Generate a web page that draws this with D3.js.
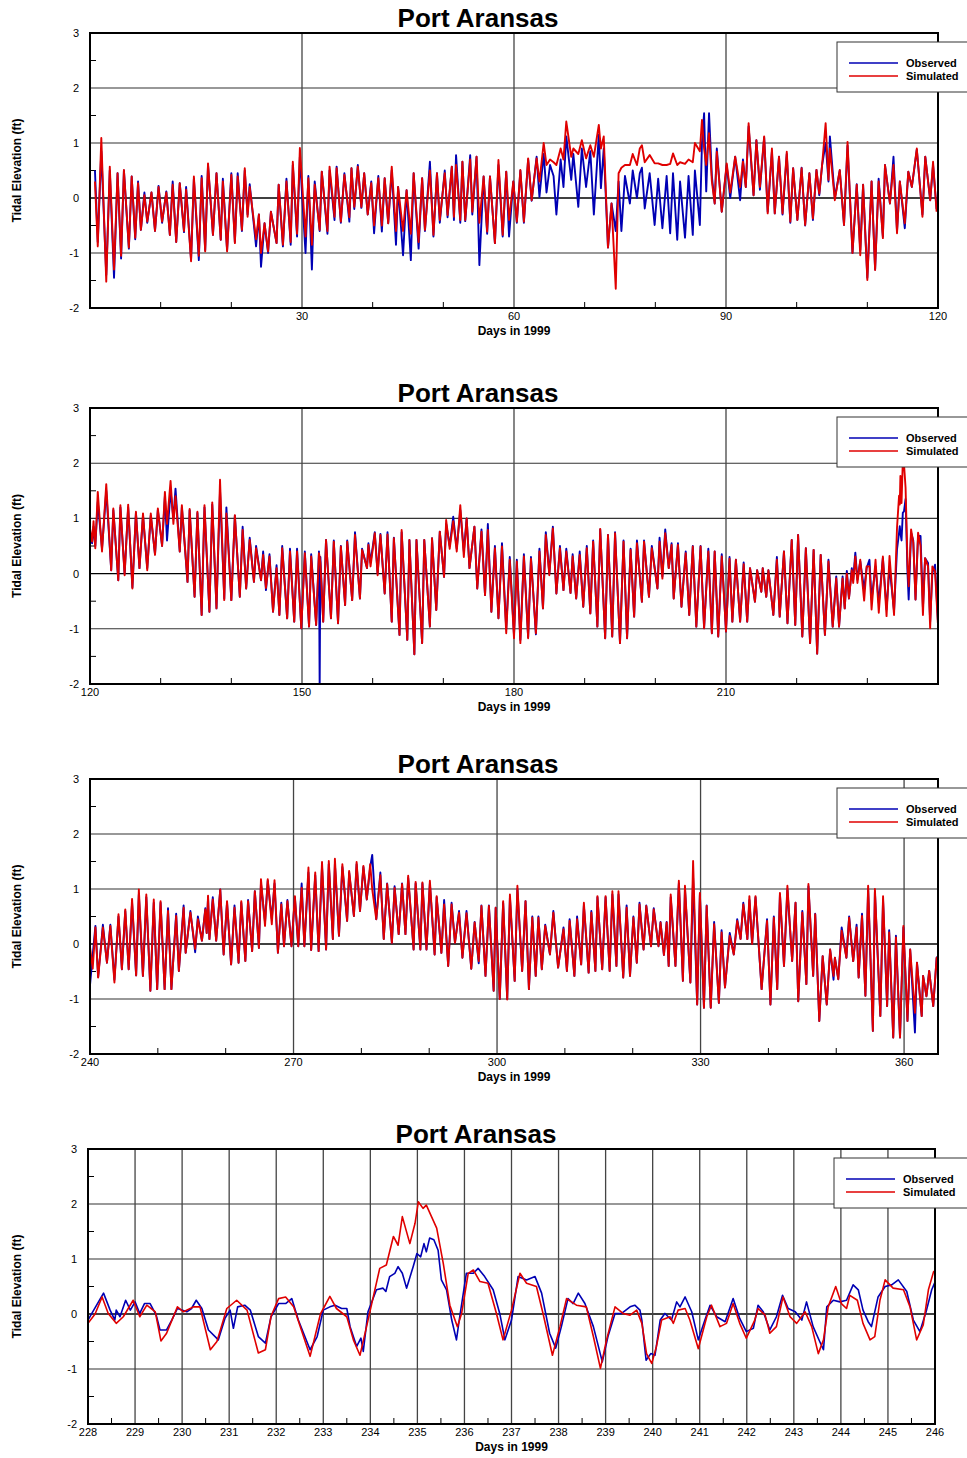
<!DOCTYPE html>
<html>
<head>
<meta charset="utf-8">
<script src="https://cdn.jsdelivr.net/npm/d3@7"></script>
<style>
  body { margin: 0; background: #fff; }
  svg { display: block; font-family: 'Liberation Sans', Arial, sans-serif; }
</style>
</head>
<body>
<script>
/* eslint-disable no-undef */
// Port Aransas tidal elevation (ft), observed vs simulated, 1999
const seriesNames = ['Observed', 'Simulated']
const yTicks = [3, 2, 1, 0, -1, -2]

// panel 1: days 0-120 (times of highs/lows)
const p1Days = [
  0.7, 1.1, 1.6, 2.3, 2.8, 3.4, 3.9, 4.4, 4.8, 5.5,
  5.9, 6.4, 6.8, 7.2, 7.7, 8.1, 8.7, 9.2, 9.7, 10.2,
  10.8, 11.3, 11.7, 12.2, 12.7, 13.3, 13.6, 14.3, 14.7, 15.4,
  15.8, 16.3, 16.7, 17.4, 17.9, 18.5, 18.8, 19.4, 20.0, 20.5,
  20.9, 21.5, 21.9, 22.3, 22.6, 23.5, 23.9, 24.2, 24.7, 25.2,
  25.6, 26.4, 26.7, 27.3, 27.8, 28.4, 28.7, 29.3, 29.7, 30.5,
  30.9, 31.4, 31.8, 32.5, 32.8, 33.6, 33.9, 34.6, 34.9, 35.5,
  36.0, 36.7, 37.0, 37.4, 37.9, 38.4, 38.8, 39.3, 39.8, 40.2,
  40.8, 41.3, 41.7, 42.2, 42.7, 43.3, 43.6, 44.3, 44.8, 45.4,
  45.8, 46.5, 47.0, 47.4, 48.1, 48.6, 49.1, 49.5, 50.2, 50.6,
  51.2, 51.5, 51.8, 52.4, 52.7, 53.1, 53.8, 54.1, 54.7, 55.1,
  55.7, 56.2, 56.6, 57.3, 57.8, 58.4, 58.9, 59.3, 59.9, 60.4,
  60.9, 61.4, 62.0, 62.5, 63.2, 63.6, 64.2, 64.6, 65.1, 65.6,
  66.0, 66.6, 67.0, 67.4, 68.1, 68.4, 69.1, 69.6, 70.2, 70.8,
  71.3, 72.0, 72.3, 72.7, 73.3, 73.8, 74.4, 74.8, 75.2, 75.7,
  76.4, 76.8, 77.4, 77.8, 78.1, 78.5, 79.2, 79.9, 80.4, 81.0,
  81.6, 82.1, 82.5, 83.1, 83.5, 84.2, 84.7, 85.3, 85.6, 86.3,
  86.6, 86.9, 87.2, 87.6, 88.0, 88.4, 88.7, 89.4, 90.1, 90.6,
  91.3, 92.0, 92.4, 92.8, 93.2, 93.9, 94.3, 94.8, 95.4, 95.9,
  96.5, 96.9, 97.5, 98.0, 98.6, 99.1, 99.5, 100.1, 100.7, 101.2,
  101.8, 102.3, 102.8, 103.2, 103.6, 104.1, 104.5, 104.7, 105.4, 106.1,
  106.7, 107.2, 107.9, 108.5, 109.0, 109.4, 110.0, 110.6, 111.1, 111.6,
  112.2, 112.5, 113.2, 113.7, 114.2, 114.6, 115.3, 115.8, 116.3, 117.0,
  117.8, 118.2, 118.9, 119.3, 119.8
]
const p1Sim = [
  0.3, -0.88, 1.09, -1.52, 0.57, -1.3, 0.45, -1.05, 0.51, -0.9,
  0.39, -0.72, 0.27, -0.58, 0.05, -0.43, 0.1, -0.6, 0.2, -0.43,
  0.1, -0.67, 0.24, -0.8, 0.27, -0.6, 0.15, -1.15, 0.39, -1.05,
  0.36, -0.97, 0.63, -0.67, 0.45, -0.76, 0.3, -0.97, 0.42, -0.82,
  0.39, -0.58, 0.54, -0.34, 0.2, -0.75, -0.3, -1.0, -0.46, -0.97,
  -0.25, -0.82, 0.24, -0.85, 0.3, -0.8, 0.66, -0.65, 0.91, -0.7,
  0.36, -0.85, 0.24, -0.58, 0.48, -0.6, 0.57, -0.34, 0.54, -0.43,
  0.42, -0.35, 0.54, -0.16, 0.57, -0.16, 0.45, -0.3, 0.27, -0.5,
  0.36, -0.5, 0.36, -0.46, 0.57, -0.6, 0.2, -0.6, 0.14, -0.65,
  0.45, -0.8, 0.36, -0.58, 0.5, -0.67, 0.45, -0.4, 0.45, -0.31,
  0.57, -0.34, 0.6, -0.4, 0.66, -0.4, 0.7, -0.25, 0.75, -0.45,
  0.39, -0.61, 0.39, -0.82, 0.69, -0.67, 0.48, -0.4, 0.3, -0.43,
  0.51, -0.43, 0.72, -0.04, 0.72, 0.3, 1.0, 0.6, 0.7, 0.65,
  0.6, 0.9, 0.7, 1.39, 0.75, 0.9, 0.8, 1.05, 0.72, 0.96,
  0.75, 1.33, 0.9, 1.12, -0.9, -0.1, -1.65, 0.45, 0.55, 0.6,
  0.6, 0.8, 0.6, 0.9, 0.96, 0.65, 0.78, 0.63, 0.63, 0.6,
  0.6, 0.62, 0.81, 0.6, 0.65, 0.62, 0.7, 0.65, 1.0, 0.85,
  1.42, 0.9, 0.6, 1.18, 0.3, -0.1, 0.84, -0.25, 0.63, 0.1,
  0.75, 0.2, 0.66, 0.2, 1.36, 0.05, 1.05, 0.2, 1.12, -0.28,
  0.9, -0.28, 0.75, -0.28, 0.84, -0.43, 0.54, -0.4, 0.54, -0.49,
  0.45, -0.37, 0.51, 0.08, 0.6, 1.36, 0.33, 0.9, -0.04, 0.51,
  -0.49, 1.02, -1.0, 0.24, -1.04, 0.24, -1.49, 0.3, -1.31, 0.3,
  -0.73, 0.6, -0.1, 0.6, -0.64, 0.3, -0.46, 0.48, 0.2, 0.9,
  -0.34, 0.75, -0.04, 0.66, -0.25
]
const p1Obs = [
  0.5, -0.8, 0.85, -1.4, 0.5, -1.45, 0.45, -1.1, 0.5, -0.92,
  0.39, -0.75, 0.3, -0.58, 0.1, -0.45, 0.1, -0.6, 0.22, -0.45,
  0.12, -0.67, 0.3, -0.8, 0.27, -0.62, 0.2, -1.12, 0.35, -1.13,
  0.4, -0.95, 0.6, -0.67, 0.45, -0.76, 0.35, -0.95, 0.45, -0.8,
  0.45, -0.6, 0.5, -0.3, 0.25, -0.88, -0.3, -1.25, -0.46, -1.0,
  -0.25, -0.82, 0.24, -0.88, 0.35, -0.85, 0.6, -0.7, 0.75, -1.0,
  0.4, -1.3, 0.3, -0.6, 0.48, -0.65, 0.5, -0.4, 0.57, -0.45,
  0.45, -0.43, 0.54, -0.2, 0.6, -0.18, 0.45, -0.3, 0.3, -0.64,
  0.4, -0.61, 0.36, -0.46, 0.5, -0.85, 0.2, -1.04, 0.14, -1.13,
  0.45, -0.92, 0.36, -0.6, 0.66, -0.7, 0.45, -0.45, 0.5, -0.35,
  0.57, -0.4, 0.78, -0.45, 0.66, -0.42, 0.78, -0.3, 0.75, -1.22,
  0.39, -0.65, 0.39, -0.82, 0.6, -0.7, 0.48, -0.7, 0.3, -0.45,
  0.5, -0.45, 0.7, -0.05, 0.75, 0.02, 0.8, 0.1, 0.6, 0.4,
  -0.3, 0.7, 0.2, 1.12, 0.33, 0.8, -0.16, 0.9, 0.2, 0.85,
  -0.3, 1.15, 0.18, 0.9, -0.9, -0.1, -0.6, 0.3, -0.6, 0.4,
  -0.1, 0.5, 0.0, 0.45, 0.55, -0.19, 0.45, -0.49, 0.35, -0.55,
  0.4, -0.64, 0.45, -0.76, 0.3, -0.72, 0.4, -0.67, 0.5, -0.49,
  1.0, 1.54, 0.12, 1.54, 0.4, -0.1, 0.9, -0.25, 0.6, 0.0,
  0.75, -0.04, 0.7, 0.2, 1.3, 0.05, 1.05, 0.15, 1.1, -0.25,
  0.85, -0.28, 0.75, -0.3, 0.8, -0.45, 0.54, -0.4, 0.55, -0.5,
  0.45, -0.4, 0.51, 0.05, 0.6, 1.0, 0.3, 1.12, 0.0, 0.5,
  -0.49, 0.95, -1.0, 0.25, -0.95, 0.24, -1.45, 0.3, -1.3, 0.35,
  -0.7, 0.6, -0.1, 0.75, -0.6, 0.3, -0.55, 0.48, 0.2, 0.88,
  -0.3, 0.75, -0.04, 0.6, -0.2
]

// panel 2: days 120-240
const p2Days = [
  120.0, 120.3, 120.5, 120.75, 121.1, 121.7, 122.3, 123.0, 123.3, 124.0,
  124.3, 124.9, 125.4, 126.0, 126.5, 127.0, 127.5, 128.1, 128.6, 129.2,
  129.6, 130.2, 130.6, 130.9, 131.4, 131.8, 132.1, 132.7, 133.0, 133.8,
  134.1, 134.8, 135.2, 135.8, 136.2, 136.9, 137.3, 137.9, 138.4, 139.0,
  139.3, 140.0, 140.5, 141.2, 141.6, 142.1, 142.6, 143.2, 143.5, 144.2,
  144.5, 144.9, 145.4, 145.9, 146.4, 146.8, 147.2, 147.9, 148.3, 148.9,
  149.3, 149.9, 150.4, 151.0, 151.3, 152.0, 152.4, 152.5, 152.6, 153.0,
  153.4, 154.1, 154.5, 155.1, 155.5, 156.1, 156.4, 157.1, 157.5, 158.2,
  158.5, 159.2, 159.4, 159.7, 160.3, 160.7, 161.1, 161.7, 162.1, 162.7,
  163.0, 163.8, 164.1, 164.9, 165.2, 165.9, 166.2, 167.0, 167.3, 168.1,
  168.4, 169.0, 169.5, 170.1, 170.4, 170.9, 171.4, 171.9, 172.4, 172.9,
  173.3, 173.7, 174.4, 174.8, 175.4, 175.9, 176.3, 176.8, 177.3, 177.8,
  178.3, 178.9, 179.4, 180.0, 180.4, 180.9, 181.4, 182.0, 182.4, 183.1,
  183.6, 184.1, 184.5, 185.0, 185.5, 186.0, 186.5, 187.0, 187.4, 188.0,
  188.3, 188.8, 189.3, 189.8, 190.3, 190.8, 191.2, 191.8, 192.2, 192.9,
  193.3, 193.9, 194.3, 195.0, 195.5, 196.0, 196.5, 197.0, 197.4, 198.1,
  198.4, 199.1, 199.5, 200.3, 200.6, 201.0, 201.4, 201.9, 202.3, 202.6,
  203.2, 203.7, 204.3, 204.8, 205.3, 205.8, 206.4, 206.9, 207.5, 208.0,
  208.4, 208.9, 209.4, 210.0, 210.5, 210.9, 211.4, 212.0, 212.5, 213.0,
  213.4, 214.1, 214.4, 215.0, 215.2, 215.7, 216.0, 216.7, 217.2, 217.6,
  218.2, 218.7, 219.3, 219.8, 220.2, 220.8, 221.3, 221.9, 222.4, 222.9,
  223.4, 224.0, 224.5, 225.1, 225.6, 226.0, 226.5, 226.8, 227.1, 227.4,
  227.8, 228.0, 228.3, 228.6, 229.0, 229.55, 229.9, 230.3, 230.6, 231.16,
  231.62, 232.2, 232.72, 233.14, 233.78, 234.2, 234.49, 234.59, 234.68, 234.84,
  235.02, 235.19, 235.41, 235.69, 235.85, 236.19, 236.5, 236.82, 237.18, 237.53,
  237.87, 238.17, 238.59, 238.89, 239.2, 239.58, 239.98
]
const p2Sim = [
  0.82, 0.58, 0.95, 0.46, 1.48, 0.4, 1.62, 0.06, 1.18, -0.12,
  1.24, -0.03, 1.25, -0.27, 1.12, 0.1, 1.09, 0.06, 1.09, 0.34,
  1.18, 0.5, 1.48, 0.9, 1.68, 0.9, 1.4, 0.4, 1.24, -0.15,
  1.17, -0.42, 1.12, -0.75, 1.24, -0.69, 1.29, -0.63, 1.7, -0.48,
  1.09, -0.48, 1.06, -0.42, 0.79, -0.27, 0.61, -0.15, 0.46, -0.12,
  0.34, -0.26, 0.31, -0.69, 0.1, -0.75, 0.46, -0.81, 0.4, -0.87,
  0.4, -0.99, 0.37, -0.96, 0.31, -0.93, 0.37, 0.3, 0.2, -0.87,
  0.61, -0.81, 0.58, -0.9, 0.49, -0.57, 0.58, -0.48, 0.7, -0.45,
  0.43, 0.1, 0.52, 0.13, 0.73, -0.03, 0.7, -0.36, 0.71, -0.87,
  0.64, -1.11, 0.79, -1.2, 0.61, -1.46, 0.61, -1.26, 0.61, -0.96,
  0.64, -0.66, 0.76, -0.06, 0.97, 0.45, 0.95, 0.4, 1.24, 0.3,
  1.0, 0.1, 0.85, -0.27, 0.76, -0.39, 0.79, -0.69, 0.46, -0.81,
  0.49, -1.08, 0.25, -1.17, 0.22, -1.26, 0.31, -1.17, 0.27, -1.08,
  0.4, -0.63, 0.7, -0.03, 0.82, -0.36, 0.46, -0.3, 0.4, -0.35,
  0.31, -0.45, 0.34, -0.6, 0.46, -0.72, 0.58, -0.96, 0.81, -1.17,
  0.7, -1.14, 0.73, -1.26, 0.58, -1.17, 0.43, -0.78, 0.55, -0.51,
  0.58, -0.42, 0.46, -0.27, 0.58, -0.09, 0.73, 0.1, 0.52, -0.45,
  0.52, -0.6, 0.37, -0.75, 0.49, -0.96, 0.49, -0.99, 0.4, -1.08,
  0.4, -1.14, 0.31, -1.05, 0.27, -0.87, 0.25, -0.87, 0.17, -0.87,
  0.1, -0.51, 0.06, -0.33, 0.1, -0.42, 0.06, -0.75, 0.25, -0.78,
  0.4, -0.9, 0.61, -0.93, 0.7, -1.14, 0.46, -1.26, 0.43, -1.45,
  0.34, -1.11, 0.22, -0.96, -0.09, -0.96, -0.09, -0.63, 0.0, -0.45,
  0.06, -0.17, 0.31, -0.17, 0.25, -0.49, 0.13, 0.13, -0.65, 0.25,
  -0.71, 0.31, -0.77, 0.32, -0.75, 0.83, 1.41, 1.25, 1.77, 1.28,
  2.04, 1.98, 1.56, 0.16, -0.23, 0.8, 0.56, -0.47, 0.74, 0.5,
  -0.75, 0.28, 0.13, -0.99, 0.13, 0.04, -0.9
]
const p2Obs = [
  0.6, 0.55, 0.85, 0.5, 1.3, 0.45, 1.5, 0.06, 1.15, -0.12,
  1.2, 0.0, 1.2, -0.25, 1.1, 0.1, 1.05, 0.1, 1.05, 0.35,
  1.15, 0.5, 1.4, 0.6, 1.5, 1.0, 1.54, 0.4, 1.2, -0.15,
  1.15, -0.42, 1.1, -0.75, 1.2, -0.69, 1.25, -0.63, 1.5, -0.45,
  1.2, -0.48, 1.05, -0.42, 0.85, -0.27, 0.65, -0.15, 0.5, -0.12,
  0.4, -0.3, 0.35, -0.69, 0.15, -0.75, 0.5, -0.81, 0.45, -0.87,
  0.45, -0.99, 0.4, -0.96, 0.35, -0.93, 0.4, -2.1, 0.3, -0.87,
  0.61, -0.81, 0.6, -0.9, 0.5, -0.57, 0.6, -0.48, 0.75, -0.45,
  0.45, 0.1, 0.55, 0.2, 0.75, 0.0, 0.72, -0.36, 0.75, -0.87,
  0.65, -1.11, 0.75, -1.2, 0.61, -1.46, 0.61, -1.26, 0.61, -0.96,
  0.64, -0.66, 0.76, -0.06, 0.9, 0.5, 1.03, 0.45, 1.15, 0.4,
  1.0, 0.1, 0.85, -0.27, 0.8, -0.39, 0.9, -0.69, 0.5, -0.81,
  0.55, -1.0, 0.3, -1.11, 0.25, -1.2, 0.35, -1.15, 0.3, -1.1,
  0.45, -0.63, 0.75, 0.0, 0.85, -0.36, 0.5, -0.3, 0.45, -0.35,
  0.35, -0.45, 0.4, -0.6, 0.5, -0.72, 0.6, -0.96, 0.8, -1.17,
  0.7, -1.14, 0.75, -1.26, 0.6, -1.17, 0.45, -0.78, 0.6, -0.51,
  0.6, -0.42, 0.5, -0.27, 0.65, -0.05, 0.8, 0.1, 0.55, -0.45,
  0.55, -0.6, 0.4, -0.75, 0.5, -0.96, 0.5, -0.99, 0.45, -1.08,
  0.4, -1.14, 0.35, -1.05, 0.3, -0.87, 0.25, -0.87, 0.2, -0.87,
  0.1, -0.51, 0.06, -0.33, 0.1, -0.42, 0.06, -0.75, 0.3, -0.78,
  0.4, -0.9, 0.61, -0.93, 0.7, -1.14, 0.46, -1.26, 0.43, -1.45,
  0.34, -1.11, 0.25, -0.96, -0.05, -0.96, -0.05, -0.63, 0.05, -0.45,
  0.1, -0.11, 0.38, -0.11, 0.22, -0.29, 0.1, 0.25, -0.47, 0.13,
  -0.53, 0.28, -0.65, 0.13, -0.68, 0.44, 0.74, 0.86, 0.74, 0.6,
  1.1, 1.13, 1.35, 0.0, -0.47, 0.74, 0.6, -0.47, 0.68, 0.68,
  -0.62, 0.28, 0.19, -0.87, 0.01, 0.16, -0.84
]

// panel 3: days 240-365
const p3Days = [
  240.0, 240.4, 240.8, 241.2, 241.9, 242.5, 243.0, 243.6, 244.2, 244.7,
  245.2, 245.7, 246.2, 246.8, 247.2, 247.8, 248.3, 248.9, 249.4, 249.9,
  250.4, 251.0, 251.5, 252.0, 252.7, 253.1, 253.8, 254.1, 254.8, 255.5,
  255.9, 256.5, 257.0, 257.2, 257.4, 257.6, 258.1, 258.6, 259.2, 259.7,
  260.2, 260.8, 261.3, 261.9, 262.3, 262.9, 263.3, 263.9, 264.3, 264.9,
  265.2, 265.8, 266.2, 266.8, 267.2, 267.7, 268.2, 268.6, 269.1, 269.7,
  270.2, 270.7, 271.2, 271.6, 272.2, 272.6, 273.2, 273.7, 274.2, 274.8,
  275.2, 275.8, 276.1, 276.7, 277.2, 277.9, 278.2, 278.9, 279.3, 279.8,
  280.3, 280.8, 281.3, 281.6, 282.2, 282.8, 283.3, 283.8, 284.5, 284.9,
  285.5, 286.0, 286.5, 286.9, 287.7, 288.0, 288.7, 289.0, 289.6, 290.1,
  290.8, 291.1, 291.8, 292.2, 292.8, 293.3, 293.8, 294.4, 294.9, 295.5,
  296.2, 296.7, 297.3, 297.7, 298.3, 298.8, 299.5, 299.8, 300.4, 300.9,
  301.5, 301.9, 302.6, 303.0, 303.7, 304.2, 304.7, 305.2, 305.7, 306.1,
  306.6, 307.1, 307.8, 308.3, 309.0, 309.8, 310.3, 310.7, 311.4, 311.8,
  312.4, 312.8, 313.5, 313.9, 314.5, 314.8, 315.5, 316.0, 316.6, 317.0,
  317.6, 317.9, 318.6, 319.1, 319.6, 320.1, 320.6, 321.0, 321.6, 322.0,
  322.7, 323.1, 323.8, 324.1, 324.6, 325.0, 325.3, 325.6, 326.3, 326.8,
  327.4, 327.7, 328.5, 328.9, 329.5, 329.9, 330.5, 330.9, 331.5, 332.0,
  332.7, 333.1, 333.6, 334.3, 334.9, 335.4, 335.9, 336.3, 336.9, 337.2,
  337.6, 338.1, 339.0, 339.8, 340.3, 340.8, 341.3, 341.7, 342.3, 342.8,
  343.5, 344.0, 344.4, 345.0, 345.6, 345.9, 346.6, 346.9, 347.5, 348.0,
  348.6, 349.1, 349.6, 349.8, 350.3, 350.8, 351.5, 351.9, 352.5, 353.0,
  353.3, 353.8, 354.3, 354.7, 355.4, 355.7, 356.5, 356.9, 357.5, 357.8,
  358.4, 358.8, 359.4, 359.9, 360.5, 360.9, 361.6, 361.9, 362.6, 362.8,
  363.3, 363.7, 364.3, 364.8, 365.0
]
const p3Sim = [
  -0.05, -0.45, 0.3, -0.61, 0.3, -0.34, 0.33, -0.7, 0.54, -0.46,
  0.63, -0.46, 0.82, -0.57, 0.99, -0.58, 0.9, -0.85, 0.81, -0.82,
  0.78, -0.82, 0.6, -0.82, 0.51, -0.49, 0.66, -0.16, 0.57, -0.09,
  0.45, 0.06, 0.63, 0.2, 0.88, 0.09, 0.81, 0.06, 0.99, -0.19,
  0.78, -0.37, 0.66, -0.34, 0.78, -0.31, 0.78, -0.13, 0.96, -0.07,
  1.18, 0.33, 1.18, 0.36, 1.16, -0.16, 0.72, -0.04, 0.78, -0.04,
  0.87, -0.04, 1.02, -0.04, 1.39, -0.11, 1.3, -0.13, 1.49, -0.1,
  1.51, 0.09, 1.55, 0.15, 1.45, 0.42, 1.33, 0.51, 1.49, 0.6,
  1.42, 0.81, 1.45, 1.0, 0.45, 1.25, 0.09, 1.09, 0.02, 1.02,
  0.18, 1.09, 0.18, 1.24, -0.1, 1.13, -0.1, 1.12, -0.1, 1.15,
  -0.19, 0.87, -0.16, 0.72, -0.4, 0.72, 0.02, 0.57, -0.25, 0.56,
  -0.45, 0.39, -0.31, 0.69, -0.58, 0.69, -0.85, 0.66, -1.0, 0.78,
  -1.01, 0.9, -0.67, 1.06, -0.49, 0.78, -0.82, 0.48, -0.58, 0.48,
  -0.46, 0.33, -0.19, 0.57, -0.43, 0.27, -0.49, 0.42, -0.58, 0.45,
  -0.37, 0.75, -0.52, 0.57, -0.49, 0.87, -0.46, 0.87, -0.49, 0.96,
  -0.4, 0.96, -0.61, 0.66, -0.58, 0.48, -0.34, 0.72, -0.1, 0.69,
  -0.04, 0.63, -0.04, 0.39, -0.2, 0.39, -0.4, 0.9, -0.4, 1.15,
  -0.67, 1.06, -0.7, 1.51, -1.1, 0.93, -1.16, 0.69, -1.16, 0.36,
  -1.07, 0.21, -0.79, 0.15, -0.19, 0.42, 0.09, 0.72, 0.09, 0.87,
  0.0, 0.87, -0.82, 0.42, -1.1, 0.48, -0.82, 0.93, -0.4, 1.06,
  -0.31, 0.75, -1.04, 0.57, -0.73, 1.09, -0.58, 0.54, -1.4, -0.22,
  -1.1, -0.1, -0.58, -0.25, -0.64, 0.24, -0.25, 0.48, -0.31, 0.3,
  -0.61, 0.51, -0.94, 1.06, -1.58, 1.0, -1.31, 0.87, -1.13, 0.21,
  -1.7, 0.12, -1.7, 0.33, -1.4, -0.1, -1.25, -0.34, -1.31, -0.58,
  -0.95, -0.49, -1.13, -0.25, -0.5
]
const p3Obs = [
  -0.75, -0.2, 0.33, -0.6, 0.35, -0.34, 0.35, -0.65, 0.5, -0.46,
  0.6, -0.46, 0.75, -0.57, 0.9, -0.58, 0.85, -0.85, 0.75, -0.82,
  0.75, -0.82, 0.65, -0.82, 0.55, -0.49, 0.7, -0.16, 0.6, -0.15,
  0.5, 0.06, 0.65, 0.2, 0.85, 0.09, 0.85, 0.06, 0.99, -0.19,
  0.75, -0.37, 0.7, -0.34, 0.75, -0.31, 0.8, -0.13, 0.96, -0.07,
  1.1, 0.4, 1.15, 0.45, 1.1, -0.16, 0.75, -0.04, 0.8, -0.04,
  0.85, -0.04, 1.1, -0.04, 1.3, -0.11, 1.25, -0.13, 1.4, -0.1,
  1.45, 0.09, 1.45, 0.15, 1.4, 0.42, 1.3, 0.51, 1.45, 0.6,
  1.4, 0.81, 1.4, 1.62, 0.45, 1.3, 0.09, 1.1, 0.02, 1.05,
  0.18, 1.1, 0.18, 1.2, -0.1, 1.1, -0.1, 1.1, -0.1, 1.1,
  -0.19, 0.85, -0.16, 0.8, -0.4, 0.75, 0.02, 0.6, -0.25, 0.6,
  -0.45, 0.4, -0.35, 0.7, -0.58, 0.7, -0.85, 0.66, -1.0, 0.75,
  -1.0, 0.85, -0.67, 1.0, -0.49, 0.78, -0.82, 0.5, -0.58, 0.5,
  -0.46, 0.35, -0.19, 0.6, -0.43, 0.3, -0.49, 0.45, -0.58, 0.5,
  -0.37, 0.7, -0.52, 0.6, -0.49, 0.85, -0.46, 0.85, -0.49, 0.9,
  -0.4, 0.9, -0.61, 0.7, -0.58, 0.5, -0.34, 0.75, -0.1, 0.7,
  -0.04, 0.65, -0.04, 0.4, -0.2, 0.4, -0.4, 0.85, -0.4, 1.1,
  -0.67, 1.0, -0.7, 1.2, -1.1, 0.9, -1.16, 0.7, -1.16, 0.4,
  -1.07, 0.25, -0.79, 0.2, -0.19, 0.45, 0.09, 0.75, 0.09, 0.8,
  0.0, 0.85, -0.82, 0.45, -1.1, 0.5, -0.82, 0.9, -0.4, 1.0,
  -0.31, 0.75, -1.04, 0.6, -0.73, 1.05, -0.58, 0.55, -1.4, -0.22,
  -1.1, -0.1, -0.65, -0.25, -0.64, 0.3, -0.25, 0.5, -0.31, 0.35,
  -0.61, 0.55, -0.94, 1.0, -1.58, 0.95, -1.31, 0.8, -1.13, 0.25,
  -1.7, 0.15, -1.7, 0.3, -1.4, -0.1, -1.61, -0.34, -1.31, -0.58,
  -0.95, -0.49, -1.13, -0.25, -0.22
]

// panel 4: days 228-246, [day, value]
const p4Sim = [
  [228.0, -0.17], [228.15, 0.0], [228.3, 0.31], [228.43, 0.01], [228.6, -0.17], [228.75, -0.05],
  [228.96, 0.25], [229.1, -0.05], [229.25, 0.16], [229.43, 0.04], [229.55, -0.49], [229.67, -0.35],
  [229.9, 0.13], [230.03, 0.04], [230.24, 0.13], [230.38, 0.13], [230.6, -0.65], [230.74, -0.5],
  [230.95, 0.1], [231.16, 0.25], [231.38, 0.07], [231.62, -0.71], [231.77, -0.65], [231.89, -0.04],
  [232.05, 0.28], [232.2, 0.31], [232.37, 0.13], [232.72, -0.77], [232.94, 0.0], [233.14, 0.32],
  [233.28, 0.1], [233.5, -0.05], [233.64, -0.47], [233.78, -0.75], [233.92, -0.23], [234.03, 0.19],
  [234.2, 0.83], [234.34, 0.89], [234.49, 1.41], [234.59, 1.25], [234.68, 1.77], [234.84, 1.28],
  [234.95, 1.65], [235.02, 2.04], [235.12, 1.92], [235.19, 1.98], [235.3, 1.77], [235.41, 1.56],
  [235.55, 0.92], [235.69, 0.16], [235.85, -0.23], [235.94, 0.01], [236.08, 0.74], [236.19, 0.8],
  [236.33, 0.59], [236.5, 0.56], [236.68, 0.01], [236.82, -0.47], [237.0, 0.07], [237.18, 0.74],
  [237.32, 0.56], [237.53, 0.5], [237.67, 0.01], [237.87, -0.75], [238.03, -0.23], [238.17, 0.28],
  [238.38, 0.16], [238.59, 0.13], [238.74, -0.41], [238.89, -0.99], [239.02, -0.47], [239.2, 0.13],
  [239.37, 0.01], [239.52, -0.02], [239.66, 0.07], [239.77, -0.17], [239.87, -0.72], [239.98, -0.9],
  [240.08, -0.59], [240.19, -0.11], [240.37, -0.05], [240.44, -0.17], [240.54, 0.07], [240.69, 0.1],
  [240.79, -0.11], [240.97, -0.63], [241.15, -0.05], [241.25, 0.16], [241.43, -0.23], [241.57, -0.17],
  [241.71, 0.19], [241.85, -0.17], [241.99, -0.44], [242.17, -0.11], [242.24, 0.1], [242.39, -0.02],
  [242.49, -0.35], [242.63, -0.23], [242.77, 0.31], [242.92, -0.05], [243.06, -0.17], [243.24, 0.04],
  [243.38, -0.23], [243.52, -0.72], [243.63, -0.47], [243.73, 0.13], [243.89, 0.5], [244.01, 0.19],
  [244.12, 0.1], [244.19, 0.34], [244.35, 0.25], [244.47, -0.17], [244.62, -0.47], [244.72, -0.41],
  [244.83, 0.25], [244.94, 0.62], [245.11, 0.47], [245.33, 0.44], [245.47, 0.13], [245.61, -0.47],
  [245.75, -0.2], [245.86, 0.44], [245.97, 0.77], [246.03, 0.8]
]
const p4Obs = [
  [228.0, -0.11], [228.1, 0.04], [228.33, 0.38], [228.47, 0.07], [228.57, -0.11], [228.6, 0.07],
  [228.68, -0.05], [228.8, 0.25], [228.9, 0.07], [229.0, 0.22], [229.1, 0.01], [229.2, 0.19],
  [229.32, 0.19], [229.45, -0.02], [229.53, -0.29], [229.67, -0.29], [229.78, -0.11], [229.9, 0.1],
  [230.1, 0.04], [230.2, 0.1], [230.3, 0.25], [230.42, 0.1], [230.56, -0.29], [230.77, -0.47],
  [230.91, -0.08], [231.02, 0.07], [231.09, -0.26], [231.18, 0.13], [231.33, 0.16], [231.45, 0.07],
  [231.62, -0.41], [231.77, -0.53], [231.89, -0.05], [232.05, 0.19], [232.2, 0.19], [232.33, 0.28],
  [232.47, -0.11], [232.72, -0.65], [232.87, -0.41], [233.0, 0.07], [233.14, 0.13], [233.25, 0.16],
  [233.39, 0.1], [233.5, 0.1], [233.57, -0.23], [233.71, -0.59], [233.8, -0.44], [233.85, -0.68],
  [233.95, 0.04], [234.13, 0.44], [234.27, 0.47], [234.33, 0.41], [234.41, 0.68], [234.52, 0.74],
  [234.59, 0.86], [234.68, 0.74], [234.77, 0.47], [234.91, 0.86], [234.99, 1.1], [235.07, 1.04],
  [235.14, 1.28], [235.19, 1.13], [235.26, 1.38], [235.35, 1.35], [235.44, 1.16], [235.51, 0.62],
  [235.62, 0.44], [235.73, -0.11], [235.83, -0.47], [235.9, -0.05], [236.04, 0.74], [236.19, 0.74],
  [236.29, 0.83], [236.43, 0.68], [236.61, 0.44], [236.75, 0.01], [236.86, -0.47], [237.0, -0.11],
  [237.14, 0.68], [237.32, 0.62], [237.5, 0.68], [237.64, 0.38], [237.81, -0.35], [237.94, -0.62],
  [238.06, -0.23], [238.2, 0.28], [238.31, 0.19], [238.42, 0.38], [238.56, 0.19], [238.74, -0.23],
  [238.93, -0.87], [239.05, -0.41], [239.2, 0.01], [239.34, 0.01], [239.52, 0.13], [239.62, 0.16],
  [239.73, 0.07], [239.77, -0.11], [239.86, -0.84], [239.96, -0.72], [240.05, -0.75], [240.16, -0.11],
  [240.26, 0.01], [240.4, -0.11], [240.51, 0.22], [240.58, 0.13], [240.69, 0.31], [240.83, 0.04],
  [240.97, -0.47], [241.11, -0.11], [241.22, 0.16], [241.36, -0.05], [241.54, -0.14], [241.71, 0.28],
  [241.85, -0.08], [241.99, -0.32], [242.14, -0.26], [242.24, 0.16], [242.35, 0.04], [242.49, -0.29],
  [242.63, -0.05], [242.76, 0.34], [242.88, 0.1], [243.03, 0.04], [243.17, -0.11], [243.27, 0.22],
  [243.41, -0.23], [243.55, -0.5], [243.63, -0.65], [243.7, 0.13], [243.84, 0.25], [243.98, 0.22],
  [244.12, 0.25], [244.26, 0.53], [244.37, 0.44], [244.47, 0.07], [244.58, -0.14], [244.65, -0.23],
  [244.79, 0.31], [244.94, 0.5], [245.08, 0.53], [245.22, 0.62], [245.4, 0.41], [245.54, -0.11],
  [245.68, -0.32], [245.82, 0.07], [245.93, 0.44], [246.02, 0.62]
]

const zip = (days, vals) => days.slice(0, Math.min(days.length, vals.length)).map((d, i) => [d, vals[i]])

const colors = { Observed: '#0000b4', Simulated: '#e00000' }

const panels = [
  { obs: zip(p1Days, p1Obs), sim: zip(p1Days, p1Sim), domain: [0, 120], labels: [30, 60, 90, 120], grid: [30, 60, 90], minor: [10, 20, 40, 50, 70, 80, 100, 110], top: 33, bottom: 308, left: 90, right: 938, titleX: 478, lw: 1.9 },
  { obs: zip(p2Days, p2Obs), sim: zip(p2Days, p2Sim), domain: [120, 240], labels: [120, 150, 180, 210], grid: [150, 180, 210], minor: [130, 140, 160, 170, 190, 200, 220, 230], top: 408, bottom: 684, left: 90, right: 938, titleX: 478, lw: 1.9 },
  { obs: zip(p3Days, p3Obs), sim: zip(p3Days, p3Sim), domain: [240, 365], labels: [240, 270, 300, 330, 360], grid: [270, 300, 330, 360], minor: [250, 260, 280, 290, 310, 320, 340, 350], top: 779, bottom: 1054, left: 90, right: 938, titleX: 478, lw: 1.9 },
  { obs: p4Obs, sim: p4Sim, domain: [228, 246], labels: d3.range(228, 247), grid: d3.range(229, 246), minor: d3.range(228.5, 246, 1), top: 1149, bottom: 1424, left: 88, right: 935, titleX: 476, lw: 1.6 }
]

const svg = d3.select('body')
  .append('svg')
  .attr('width', 967)
  .attr('height', 1458)

panels.forEach((p, idx) => {
  const x = d3.scaleLinear().domain(p.domain).range([p.left, p.right])
  const y = d3.scaleLinear().domain([-2, 3]).range([p.bottom, p.top])
  const g = svg.append('g')

  g.append('text')
    .attr('x', p.titleX)
    .attr('y', p.top - 6)
    .attr('text-anchor', 'middle')
    .style('font-size', '26px')
    .style('font-weight', 'bold')
    .text('Port Aransas')

  // horizontal grid
  g.selectAll('.hgrid')
    .data([-1, 0, 1, 2])
    .enter()
    .append('line')
    .attr('x1', p.left)
    .attr('x2', p.right)
    .attr('y1', d => y(d))
    .attr('y2', d => y(d))
    .attr('stroke', d => d === 0 ? '#000' : '#333')
    .attr('stroke-width', d => d === 0 ? 1.4 : 1.1)

  // vertical grid
  g.selectAll('.vgrid')
    .data(p.grid)
    .enter()
    .append('line')
    .attr('x1', d => x(d))
    .attr('x2', d => x(d))
    .attr('y1', p.top)
    .attr('y2', p.bottom)
    .attr('stroke', '#444')
    .attr('stroke-width', 1.3)

  // minor ticks
  g.selectAll('.xminor')
    .data(p.minor)
    .enter()
    .append('line')
    .attr('x1', d => x(d))
    .attr('x2', d => x(d))
    .attr('y1', p.bottom)
    .attr('y2', p.bottom - 6)
    .attr('stroke', '#000')
    .attr('stroke-width', 1)
  g.selectAll('.yminor')
    .data([2.5, 1.5, 0.5, -0.5, -1.5])
    .enter()
    .append('line')
    .attr('x1', p.left)
    .attr('x2', p.left + 6)
    .attr('y1', d => y(d))
    .attr('y2', d => y(d))
    .attr('stroke', '#000')
    .attr('stroke-width', 1)

  const clipId = 'clip' + idx
  g.append('clipPath')
    .attr('id', clipId)
    .append('rect')
    .attr('x', p.left)
    .attr('y', p.top)
    .attr('width', p.right - p.left)
    .attr('height', p.bottom - p.top)

  const line = d3.line()
    .x(d => x(d[0]))
    .y(d => y(d[1]))

  g.append('path')
    .datum(p.obs)
    .attr('clip-path', `url(#${clipId})`)
    .attr('fill', 'none')
    .attr('stroke', colors.Observed)
    .attr('stroke-width', p.lw)
    .attr('stroke-linejoin', 'round')
    .attr('d', line)
  g.append('path')
    .datum(p.sim)
    .attr('clip-path', `url(#${clipId})`)
    .attr('fill', 'none')
    .attr('stroke', colors.Simulated)
    .attr('stroke-width', p.lw)
    .attr('stroke-linejoin', 'round')
    .attr('d', line)

  // frame
  g.append('rect')
    .attr('x', p.left)
    .attr('y', p.top)
    .attr('width', p.right - p.left)
    .attr('height', p.bottom - p.top)
    .attr('fill', 'none')
    .attr('stroke', '#000')
    .attr('stroke-width', 2)

  // tick labels
  g.selectAll('.ylab')
    .data(yTicks)
    .enter()
    .append('text')
    .attr('x', p.left - 11)
    .attr('y', d => y(d) + 4)
    .attr('text-anchor', 'end')
    .style('font-size', '11px')
    .text(d => d)
  g.selectAll('.xlab')
    .data(p.labels)
    .enter()
    .append('text')
    .attr('x', d => x(d))
    .attr('y', p.bottom + 12)
    .attr('text-anchor', 'middle')
    .style('font-size', '11px')
    .text(d => d)

  g.append('text')
    .attr('x', (p.left + p.right) / 2)
    .attr('y', p.bottom + 27)
    .attr('text-anchor', 'middle')
    .style('font-size', '12px')
    .style('font-weight', 'bold')
    .text('Days in 1999')

  g.append('text')
    .attr('transform', `translate(21,${(p.top + p.bottom) / 2}) rotate(-90)`)
    .attr('text-anchor', 'middle')
    .style('font-size', '12px')
    .style('font-weight', 'bold')
    .text('Tidal Elevation (ft)')

  // legend
  const lx = p.right - 101
  const ly = p.top + 9
  const legend = g.append('g')
  legend.append('rect')
    .attr('x', lx)
    .attr('y', ly)
    .attr('width', 140)
    .attr('height', 50)
    .attr('fill', '#fff')
    .attr('stroke', '#333')
    .attr('stroke-width', 1)
  seriesNames.forEach((name, i) => {
    legend.append('line')
      .attr('x1', lx + 12)
      .attr('x2', lx + 61)
      .attr('y1', ly + 21 + i * 13)
      .attr('y2', ly + 21 + i * 13)
      .attr('stroke', colors[name])
      .attr('stroke-width', 1.6)
    legend.append('text')
      .attr('x', lx + 69)
      .attr('y', ly + 25 + i * 13)
      .style('font-size', '11px')
      .style('font-weight', 'bold')
      .text(name)
  })
})
</script>
</body>
</html>
